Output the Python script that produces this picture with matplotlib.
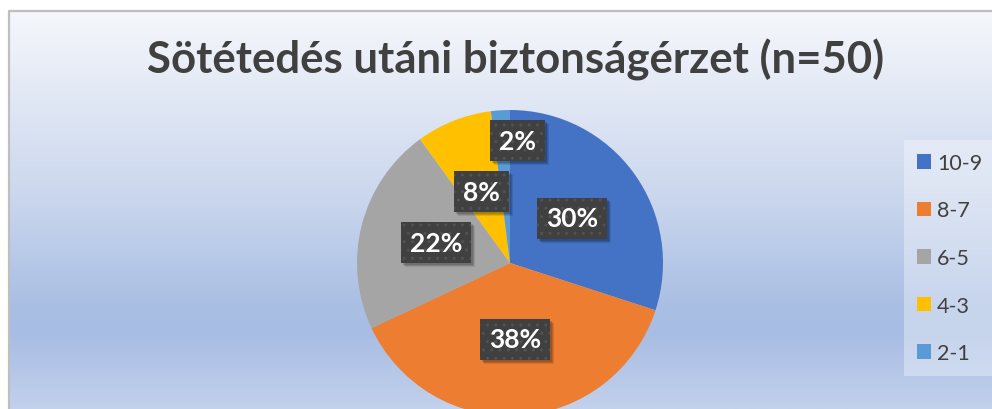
import numpy as np
import matplotlib
matplotlib.use("Agg")
import matplotlib.pyplot as plt
from matplotlib.colors import LinearSegmentedColormap
from matplotlib.patches import Patch, Rectangle

# survey answers after dark, n = 50
categories = ["10-9", "8-7", "6-5", "4-3", "2-1"]
counts = [15, 19, 11, 4, 1]
title = "Sötétedés utáni biztonságérzet (n=50)"

colors = ["#4472C4", "#ED7D31", "#A5A5A5", "#FFC000", "#5B9BD5"]

# label placement: fraction of radius, angle nudge (deg) off the wedge middle
label_dist = [0.5, 0.5, 0.5, 0.5, 0.8]
label_nudge = [0, 0, -1, 0, -7]

W, H = 992, 410
plt.rcParams["font.family"] = ["Lato", "DejaVu Sans"]

fig = plt.figure(figsize=(W / 100, H / 100), dpi=100)
fig.patch.set_facecolor("white")
ax = fig.add_axes([0, 0, 1, 1])

# chart area gradient (top light -> blue band -> lighter at bottom)
top = 398
stops = [(0.0, "#C2D1EC"), (0.19, "#A8BDE3"), (0.26, "#AABFE4"),
         (0.55, "#CCD8EE"), (0.80, "#E3E9F5"), (1.0, "#F5F7FB")]
cmap = LinearSegmentedColormap.from_list("bg", stops)
grad = np.linspace(0, 1, 256).reshape(-1, 1)
ax.imshow(grad, extent=[9, W, 0, top], origin="lower", cmap=cmap,
          aspect="auto", zorder=0)
ax.plot([8.5, 8.5, W], [0, top + 0.5, top + 0.5], color="#BFBFBF", lw=1.6,
        zorder=1, solid_capstyle="butt")

ax.text(516, H - 60, title, ha="center", va="center", fontsize=31.5,
        fontweight="bold", color="#404040", zorder=5)

# pie
cx, cy, R = 510, H - 264, 153
wedges, _ = ax.pie(counts, colors=colors, startangle=90, counterclock=False,
                   center=(cx, cy), radius=R, frame=True,
                   wedgeprops=dict(linewidth=0), normalize=True)
for w in wedges:
    w.set_zorder(2)
ax.set_xlim(0, W)
ax.set_ylim(0, H)
ax.set_aspect("equal")
ax.axis("off")

# data labels in dark boxes with a soft drop shadow
renderer = fig.canvas.get_renderer()
total = sum(counts)
box_h, pad_x = 41, 9
for w, c, d, nudge in zip(wedges, counts, label_dist, label_nudge):
    ang = np.deg2rad((w.theta1 + w.theta2) / 2 + nudge)
    x = cx + d * R * np.cos(ang)
    y = cy + d * R * np.sin(ang)
    t = ax.text(x, y, f"{100 * c / total:.0f}%", ha="center", va="center",
                fontsize=19, fontweight="bold", color="white", zorder=5)
    bw = t.get_window_extent(renderer).width + 2 * pad_x
    for k, a in enumerate([0.10, 0.12, 0.15]):
        off = 4 - k
        ax.add_patch(Rectangle((x - bw / 2 + off, y - box_h / 2 - off), bw,
                               box_h, facecolor="black", alpha=a,
                               linewidth=0, zorder=3))
    ax.add_patch(Rectangle((x - bw / 2, y - box_h / 2), bw, box_h,
                           facecolor="#404040", edgecolor="#525252",
                           hatch="..", linewidth=0, zorder=4))

handles = [Patch(facecolor=c, edgecolor="none") for c in colors]
leg = ax.legend(handles, categories, loc="upper left",
                bbox_to_anchor=(904 / W, 1 - 141 / H), borderaxespad=0,
                frameon=True, fontsize=15.5, labelcolor="#404040",
                handlelength=0.65, handleheight=0.65, handletextpad=0.28,
                labelspacing=1.28, borderpad=0.6, fancybox=False)
leg.get_frame().set_facecolor("white")
leg.get_frame().set_alpha(0.35)
leg.get_frame().set_linewidth(0)

fig.savefig("out.png", dpi=100)
